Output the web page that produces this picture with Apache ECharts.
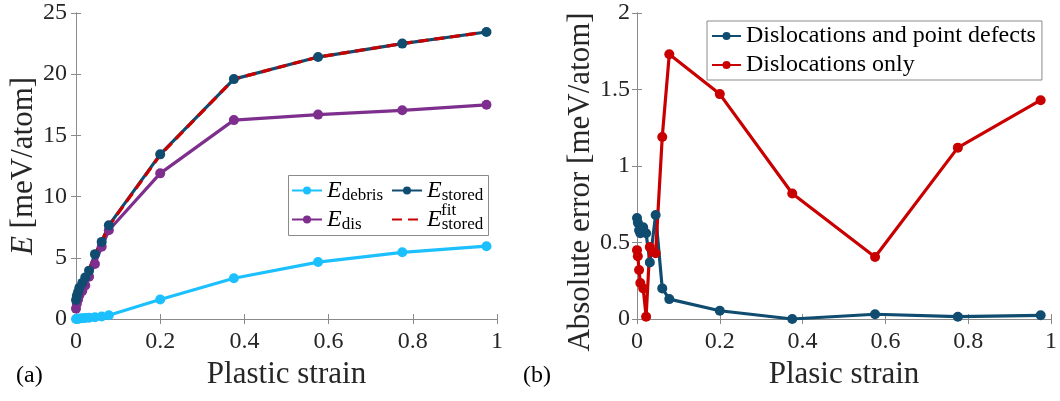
<!DOCTYPE html>
<html>
<head>
<meta charset="utf-8">
<script src="https://cdn.jsdelivr.net/npm/echarts@6/dist/echarts.min.js"></script>
<style>
  html, body { margin: 0; padding: 0; background: #fff; }
  #main { width: 1060px; height: 401px; }
</style>
</head>
<body>
<div id="main"></div>
<script>
// data
var strain = [0, 0.002, 0.005, 0.008, 0.015, 0.022, 0.031, 0.045, 0.061, 0.078, 0.2, 0.375, 0.575, 0.775, 0.975];
var eDebris = [0, 0.01, 0.02, 0.04, 0.06, 0.08, 0.11, 0.15, 0.2, 0.3, 1.6, 3.33, 4.65, 5.45, 5.95];
var eDis = [0.85, 1.25, 1.6, 1.95, 2.3, 2.75, 3.45, 4.5, 5.9, 7.25, 11.9, 16.25, 16.7, 17.05, 17.5];
var eStored = [1.55, 1.9, 2.2, 2.55, 2.95, 3.4, 3.95, 5.3, 6.3, 7.65, 13.45, 19.6, 21.4, 22.5, 23.45];
var eFit = [1.5, 1.9, 2.25, 2.6, 2.95, 3.4, 4.0, 5.25, 6.35, 7.6, 13.4, 19.6, 21.4, 22.5, 23.45];
var errBoth = [0.66, 0.63, 0.58, 0.56, 0.6, 0.56, 0.37, 0.68, 0.2, 0.13, 0.054, 0.0, 0.031, 0.015, 0.024];
var errDis = [0.45, 0.41, 0.32, 0.235, 0.2, 0.015, 0.47, 0.43, 1.19, 1.73, 1.47, 0.82, 0.405, 1.12, 1.43];
var xTicks = [0, 1, 0.2];       // min, max, step
var yTicksLeft = [0, 25, 5];
var yTicksRight = [0, 2, 0.5];

var FONT = 'Liberation Serif';
var AX = '#8a8a8a';
var TXT = '#262626';
var C_DEBRIS = '#1cc0ff', C_DIS = '#7e2f8e', C_STORED = '#0f4c70', C_RED = '#c80000';

function pairs(ys) {
    return strain.map(function(s, i) { return [s, ys[i]]; });
}

function axis(pos, grid, t, labels, name, nameGap, margin, pad) {
    var a = {
        type: 'value', gridIndex: grid, position: pos,
        min: t[0], max: t[1], interval: t[2],
        axisLine: { show: true, lineStyle: { color: AX, width: 1 } },
        axisTick: { show: true, inside: true, length: 5, lineStyle: { color: AX } },
        splitLine: { show: false },
        axisLabel: { show: labels, color: TXT, fontFamily: FONT, fontSize: 24, margin: margin || 9 }
    };
    if (name) {
        a.name = name;
        a.nameLocation = 'middle';
        a.nameGap = nameGap;
        a.nameTextStyle = { color: TXT, fontFamily: FONT, fontSize: 31, padding: pad || 0,
            rich: { i: { fontFamily: FONT, fontSize: 31, fontStyle: 'italic', color: TXT } } };
    }
    return a;
}

var legendRich = {
    e: { fontFamily: FONT, fontSize: 24, fontStyle: 'italic', color: '#000', lineHeight: 24 },
    s: { fontFamily: FONT, fontSize: 17, color: '#000', lineHeight: 18, padding: [10, 0, 0, 0] }
};
var legendNames = {
    'E_debris': '{e|E}{s|debris}',
    'E_dis': '{e|E}{s|dis}',
    'E_stored': '{e|E}{s|stored}',
    'E_fit': '{e|E}{s|stored}'
};

function line(name, x, y, data, color, extra) {
    var s = {
        name: name, type: 'line', xAxisIndex: x, yAxisIndex: y,
        data: pairs(data), symbol: 'circle', symbolSize: 10,
        lineStyle: { color: color, width: 3.2 },
        itemStyle: { color: color },
        emphasis: { disabled: true }
    };
    for (var k in extra) s[k] = extra[k];
    return s;
}

var myChart = echarts.init(document.getElementById('main'));
var option = {
    animation: false,
    textStyle: { fontFamily: FONT },
    grid: [
        { left: 76, top: 13, width: 421, height: 306 },
        { left: 637, top: 13, width: 418, height: 306 }
    ],
    xAxis: [
        axis('bottom', 0, xTicks, true, 'Plastic strain', 35, 11),
        axis('top', 0, xTicks, false),
        axis('bottom', 1, xTicks, true, 'Plasic strain', 35, 11),
        axis('top', 1, xTicks, false)
    ],
    yAxis: [
        axis('left', 0, yTicksLeft, true, '{i|E} [meV/atom]', 37, 9),
        axis('right', 0, yTicksLeft, false),
        axis('left', 1, yTicksRight, true, 'Absolute error [meV/atom]', 40, 7, [0, 32, 0, 0]),
        axis('right', 1, yTicksRight, false)
    ],
    legend: [
        {
            data: ['E_debris', 'E_dis'], orient: 'vertical', left: 291, top: 177,
            padding: 0, itemGap: 2, itemWidth: 30, itemHeight: 10,
            formatter: function(n) { return legendNames[n]; },
            textStyle: { rich: legendRich }, selectedMode: false
        },
        {
            data: ['E_stored', { name: 'E_fit', itemStyle: { opacity: 0 } }],
            orient: 'vertical', left: 391, top: 177,
            padding: 0, itemGap: 2, itemWidth: 30, itemHeight: 10,
            formatter: function(n) { return legendNames[n]; },
            textStyle: { rich: legendRich }, selectedMode: false
        },
        {
            data: ['Dislocations and point defects', 'Dislocations only'],
            orient: 'vertical', left: 707, top: 21,
            padding: [3, 6, 3, 4], itemGap: 5, itemWidth: 29, itemHeight: 10,
            borderColor: AX, borderWidth: 1, backgroundColor: '#fff',
            textStyle: { fontFamily: FONT, fontSize: 24, color: '#000' }, selectedMode: false
        }
    ],
    graphic: [
        { type: 'rect', z: 3, shape: { x: 288.5, y: 175.5, width: 200, height: 60 },
          style: { fill: '#fff', stroke: AX, lineWidth: 1 } },
        { type: 'text', z: 10, left: 441, top: 202,
          style: { text: 'fit', fontFamily: FONT, fontSize: 17, fill: '#000' } },
        { type: 'text', left: 16, top: 364,
          style: { text: '(a)', fontFamily: FONT, fontSize: 24, fill: '#000' } },
        { type: 'text', left: 523, top: 364,
          style: { text: '(b)', fontFamily: FONT, fontSize: 24, fill: '#000' } }
    ],
    series: [
        line('E_debris', 0, 0, eDebris, C_DEBRIS),
        line('E_dis', 0, 0, eDis, C_DIS),
        line('E_stored', 0, 0, eStored, C_STORED),
        line('E_fit', 0, 0, eFit, C_RED, { symbol: 'none', lineStyle: { color: C_RED, width: 3.2, type: [10, 6] } }),
        line('Dislocations and point defects', 2, 2, errBoth, C_STORED),
        line('Dislocations only', 2, 2, errDis, C_RED)
    ]
};
myChart.setOption(option);
</script>
</body>
</html>
